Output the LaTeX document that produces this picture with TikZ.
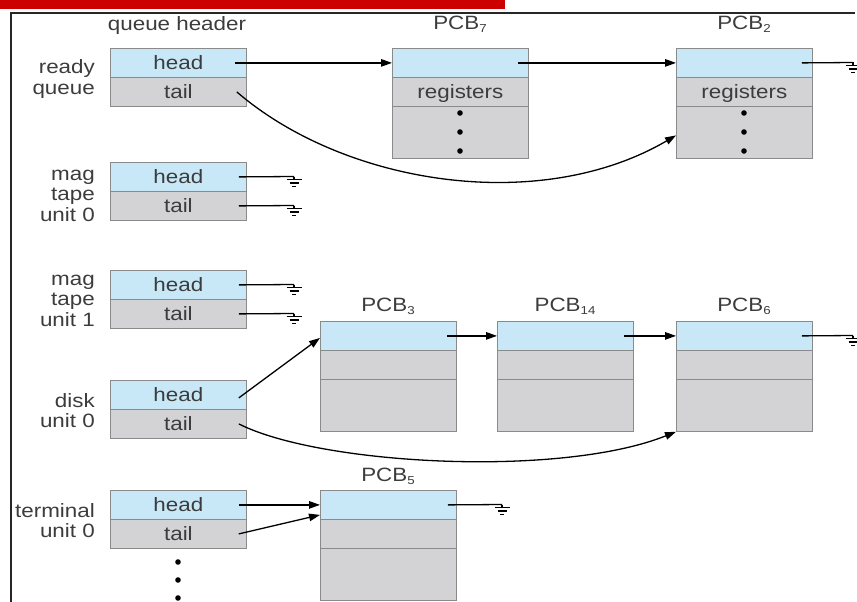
\documentclass[tikz,border=0pt]{standalone}
\usepackage{fontspec}
\setmainfont{Liberation Sans}[FakeStretch=1.16]
\usetikzlibrary{arrows.meta}
\definecolor{cellblue}{HTML}{C8E8F8}
\definecolor{cellgray}{HTML}{D3D3D5}
\definecolor{cellline}{HTML}{8A8A8A}
\definecolor{ink}{HTML}{3C3C3C}
\definecolor{bannerred}{HTML}{CC0000}
% small lowered index for PCB numbers
\newcommand\pcbsub[1]{\raisebox{-3pt}{\fontsize{11.5}{11.5}\selectfont #1}}
% right-aligned stacked device label, baseline on its first line
\newcommand\devlabel[1]{\begin{tabular}[t]{@{}r@{}}#1\end{tabular}}

\begin{document}
\begin{tikzpicture}[x=1pt,y=-1pt,
  font=\fontsize{19.3}{20.5}\selectfont,
  cell/.style={draw=cellline, line width=0.8pt, minimum width=136pt,
    inner sep=0pt, anchor=north west, text=ink, text height=14pt, text depth=0pt},
  bluecell/.style={cell, fill=cellblue, minimum height=29pt},
  graycell/.style={cell, fill=cellgray, minimum height=29pt},
  tallcell/.style={cell, fill=cellgray, minimum height=52pt},
  side/.style={anchor=base east, text=ink, inner sep=0pt},
  title/.style={anchor=base, text=ink, inner sep=0pt},
  link/.style={draw=black, line width=1.3pt, -{Triangle[length=11pt,width=7.5pt]}},
  wire/.style={draw=black, line width=1.3pt},
  gnd/.pic={\draw[line width=1.1pt] (0,0) -- (0,3) (-7.5,3) -- (7.5,3)
    (-4.5,6.5) -- (4.5,6.5) (-2,10) -- (2,10);}
]
\useasboundingbox (0,0) rectangle (857,602);

% banner and frame
\fill[bannerred] (0,0) rectangle (505,9);
\draw[line width=1.8pt, black!85] (11,602) -- (11,13) -- (855,13);

% column titles
\node[title] (tq)  at (177,31) {queue header};
\node[title] (t7)  at (460,30) {PCB\pcbsub{7}};
\node[title] (t2)  at (744,30) {PCB\pcbsub{2}};
\node[title] (t3)  at (388,311) {PCB\pcbsub{3}};
\node[title] (t14) at (565,311) {PCB\pcbsub{14}};
\node[title] (t6)  at (744,311) {PCB\pcbsub{6}};
\node[title] (t5)  at (388,481) {PCB\pcbsub{5}};

% device labels
\node[side] (lr) at (95,74)  {\devlabel{ready\\queue}};
\node[side] (l0) at (95,180) {\devlabel{mag\\tape\\unit 0}};
\node[side] (l1) at (95,285) {\devlabel{mag\\tape\\unit 1}};
\node[side] (ld) at (95,407) {\devlabel{disk\\unit 0}};
\node[side] (lt) at (95,517) {\devlabel{terminal\\unit 0}};

% queue headers
\node[bluecell] (rqh) at (110,48)  {head};
\node[graycell] (rqt) at (110,77)  {tail};
\node[bluecell] (m0h) at (110,162) {head};
\node[graycell] (m0t) at (110,191) {tail};
\node[bluecell] (m1h) at (110,270) {head};
\node[graycell] (m1t) at (110,299) {tail};
\node[bluecell] (dkh) at (110,380) {head};
\node[graycell] (dkt) at (110,409) {tail};
\node[bluecell] (tmh) at (110,490) {head};
\node[graycell] (tmt) at (110,519) {tail};

% process control blocks
\node[bluecell] (p7a) at (392,48)  {};
\node[graycell] (p7b) at (392,77)  {registers};
\node[tallcell] (p7c) at (392,106) {};
\node[bluecell] (p2a) at (676,48)  {};
\node[graycell] (p2b) at (676,77)  {registers};
\node[tallcell] (p2c) at (676,106) {};

\node[bluecell] (p3a)  at (320,321) {};
\node[graycell] (p3b)  at (320,350) {};
\node[tallcell] (p3c)  at (320,379) {};
\node[bluecell] (p14a) at (497,321) {};
\node[graycell] (p14b) at (497,350) {};
\node[tallcell] (p14c) at (497,379) {};
\node[bluecell] (p6a)  at (676,321) {};
\node[graycell] (p6b)  at (676,350) {};
\node[tallcell] (p6c)  at (676,379) {};

\node[bluecell] (p5a) at (320,490) {};
\node[graycell] (p5b) at (320,519) {};
\node[tallcell] (p5c) at (320,548) {};

% ellipsis dots
\foreach \y in {113,132,151} {
  \fill (460,\y) circle (2.8pt);
  \fill (744,\y) circle (2.8pt);
}
\foreach \y in {562,580,598} \fill (178,\y) circle (2.8pt);

% null-pointer ends
\coordinate (g2r) at (853,62.5);
\coordinate (g0h) at (294,176.5);
\coordinate (g0t) at (294,205.5);
\coordinate (g1h) at (294,284.5);
\coordinate (g1t) at (294,313.5);
\coordinate (g6)  at (853,335.5);
\coordinate (g5)  at (502,504.5);

% ready queue
\draw[link] ([xshift=-12pt]rqh.east) -- (p7a.west);
\draw[link] ([xshift=-11pt]p7a.east) -- (p2a.west);
\draw[wire] ([xshift=-11pt]p2a.east) -- (g2r);
\draw[link] ([xshift=-10pt]rqt.east) .. controls (345,185) and (540,215) .. ([yshift=-3pt]p2c.west);

% magnetic tape units (empty)
\draw[wire] ([xshift=-8pt]m0h.east) -- (g0h);
\draw[wire] ([xshift=-8pt]m0t.east) -- (g0t);
\draw[wire] ([xshift=-8pt]m1h.east) -- (g1h);
\draw[wire] ([xshift=-8pt]m1t.east) -- (g1t);

% disk unit 0
\draw[link] ([xshift=-8pt,yshift=-3pt]dkh.east) -- ([yshift=-2pt]p3a.west);
\draw[link] ([xshift=-10pt]p3a.east) -- (p14a.west);
\draw[link] ([xshift=-10pt]p14a.east) -- (p6a.west);
\draw[wire] ([xshift=-11pt]p6a.east) -- (g6);
\draw[link] ([xshift=-8pt]dkt.east) .. controls (320,465) and (560,478) .. (p6c.south west);

% terminal unit 0
\draw[link] ([xshift=-8pt]tmh.east) -- (p5a.west);
\draw[link] ([xshift=-8pt]tmt.east) -- ([yshift=-10pt]p5a.west);
\draw[wire] ([xshift=-9pt]p5a.east) -- (g5);

% ground symbols
\foreach \g in {g2r,g0h,g0t,g1h,g1t,g6,g5} \pic at (\g) {gnd};
\end{tikzpicture}
\end{document}
